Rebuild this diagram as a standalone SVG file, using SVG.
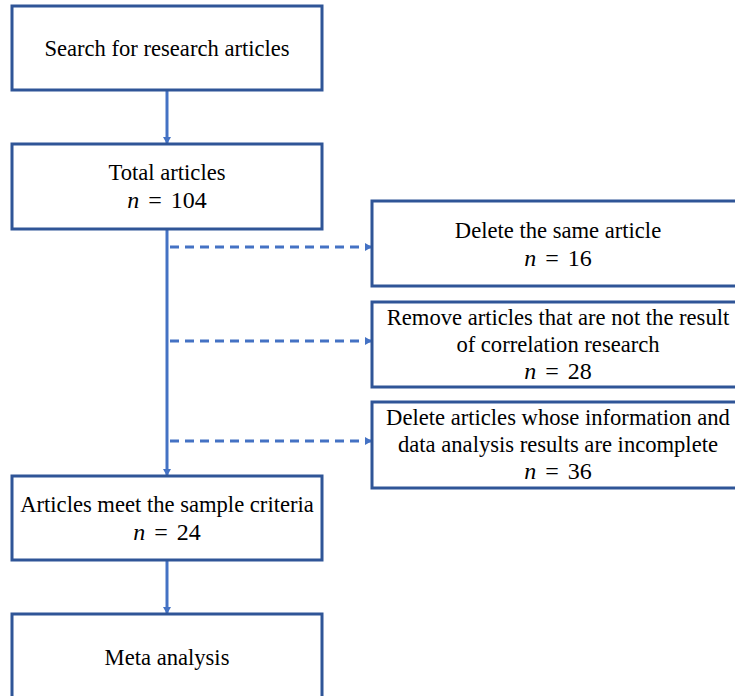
<svg xmlns="http://www.w3.org/2000/svg" width="735" height="696" viewBox="0 0 735 696">
<style>
.box{fill:#fff;stroke:#2F5597;stroke-width:3}
.t{font-family:'Liberation Serif','Times New Roman',serif;font-size:22.6px;fill:#000;text-anchor:middle}
.m{font-size:24px}
.n{font-style:italic}
.solid{stroke:#4472C4;stroke-width:3;fill:none}
.dash{stroke:#4472C4;stroke-width:3;fill:none;stroke-dasharray:9 6}
</style>
<defs>
<marker id="ah" markerWidth="8" markerHeight="8" refX="6" refY="4" orient="auto" markerUnits="userSpaceOnUse">
<path d="M0,0 L7,4 L0,8 Z" fill="#4472C4"/>
</marker>
</defs>
<rect width="735" height="696" fill="#fff"/>
<g id="connectors">
<line class="solid" x1="167" y1="90" x2="167" y2="143" marker-end="url(#ah)"/>
<line class="solid" x1="167" y1="229" x2="167" y2="475" marker-end="url(#ah)"/>
<line class="solid" x1="167" y1="560" x2="167" y2="613" marker-end="url(#ah)"/>
<line class="dash" x1="170" y1="247" x2="371" y2="247" marker-end="url(#ah)"/>
<line class="dash" x1="170" y1="341" x2="371" y2="341" marker-end="url(#ah)"/>
<line class="dash" x1="170" y1="441" x2="371" y2="441" marker-end="url(#ah)"/>
</g>
<g id="search">
<rect class="box" x="12" y="6" width="310" height="84"/>
<text class="t" x="167" y="56">Search for research articles</text>
</g>
<g id="total">
<rect class="box" x="12" y="144" width="310" height="85"/>
<text class="t" x="167" y="180">Total articles</text>
<text class="t m" x="167" y="208"><tspan class="n">n</tspan> <tspan dx="3">=</tspan> <tspan dx="3">104</tspan></text>
</g>
<g id="same">
<rect class="box" x="372" y="201" width="380" height="85"/>
<text class="t" x="558" y="238">Delete the same article</text>
<text class="t m" x="558" y="266"><tspan class="n">n</tspan> <tspan dx="3">=</tspan> <tspan dx="3">16</tspan></text>
</g>
<g id="notcorr">
<rect class="box" x="372" y="302" width="380" height="85"/>
<text class="t" x="558" y="325">Remove articles that are not the result</text>
<text class="t" x="558" y="352">of correlation research</text>
<text class="t m" x="558" y="379"><tspan class="n">n</tspan> <tspan dx="3">=</tspan> <tspan dx="3">28</tspan></text>
</g>
<g id="incomplete">
<rect class="box" x="372" y="402" width="380" height="86"/>
<text class="t" x="558" y="425">Delete articles whose information and</text>
<text class="t" x="558" y="452">data analysis results are incomplete</text>
<text class="t m" x="558" y="479"><tspan class="n">n</tspan> <tspan dx="3">=</tspan> <tspan dx="3">36</tspan></text>
</g>
<g id="meet">
<rect class="box" x="12" y="476" width="310" height="84"/>
<text class="t" x="167" y="512">Articles meet the sample criteria</text>
<text class="t m" x="167" y="540"><tspan class="n">n</tspan> <tspan dx="3">=</tspan> <tspan dx="3">24</tspan></text>
</g>
<g id="meta">
<rect class="box" x="12" y="614" width="310" height="100"/>
<text class="t" x="167" y="665">Meta analysis</text>
</g>
</svg>
